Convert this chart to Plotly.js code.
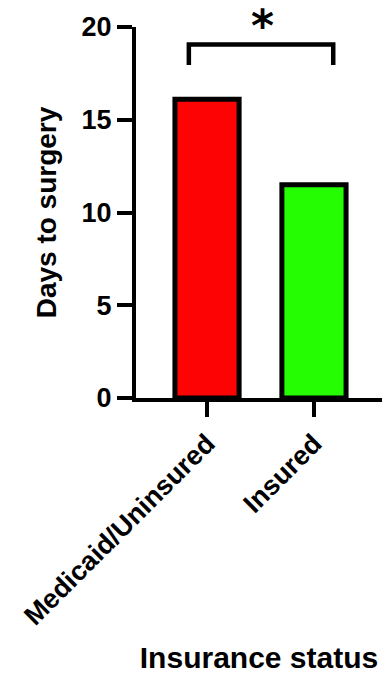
<!DOCTYPE html>
<html>
<head>
<meta charset="utf-8">
<script src="https://cdn.plot.ly/plotly-3.0.1.min.js"></script>
<style>html,body{margin:0;padding:0;background:#fff;}#chart{width:382px;height:677px;}</style>
</head>
<body>
<div id="chart"></div>
<script>
var categories = ["Medicaid/Uninsured", "Insured"];
var daysToSurgery = [16.1, 11.5];
var barColors = ["#fd0303", "#24fd02"];
var yTicks = [0, 5, 10, 15, 20];
var bracketX = [-0.17, -0.17, 1.18, 1.18];
var bracketY = [17.95, 19.05, 19.05, 17.95];
var sigLabel = "*";
var sigX = 0.52;
var sigYPaper = 1.003;

var FONT = "Liberation Sans, Arial, Helvetica, sans-serif";

var traces = [
  {
    type: "bar",
    x: [0, 1],
    y: daysToSurgery,
    width: 0.6,
    marker: {color: barColors, line: {color: "#000", width: 5}},
    hoverinfo: "skip"
  },
  {
    type: "scatter",
    mode: "lines",
    x: bracketX,
    y: bracketY,
    line: {color: "#000", width: 4.5},
    cliponaxis: false,
    hoverinfo: "skip"
  }
];

var layout = {
  width: 382,
  height: 677,
  margin: {l: 136, r: 0, t: 27, b: 279},
  paper_bgcolor: "#fff",
  plot_bgcolor: "#fff",
  showlegend: false,
  font: {family: FONT, color: "#000"},
  xaxis: {
    range: [-0.664, 1.636],
    tickmode: "array",
    tickvals: [0, 1],
    ticktext: categories,
    tickangle: -45,
    ticks: "outside",
    ticklen: 15,
    tickwidth: 4,
    tickcolor: "#000",
    showline: true,
    linewidth: 4,
    linecolor: "#000",
    showgrid: false,
    zeroline: false,
    automargin: false,
    tickfont: {family: FONT, size: 27, weight: "bold", color: "#000"},
    title: {text: "Insurance status", font: {family: FONT, size: 30, weight: "bold", color: "#000"}, standoff: 18}
  },
  yaxis: {
    range: [0, 20],
    tickmode: "array",
    tickvals: yTicks,
    ticktext: yTicks.map(String),
    ticks: "outside",
    ticklen: 15,
    tickwidth: 4,
    tickcolor: "#000",
    showline: true,
    linewidth: 4,
    linecolor: "#000",
    showgrid: false,
    zeroline: false,
    automargin: false,
    tickfont: {family: FONT, size: 27, weight: "bold", color: "#000"},
    title: {text: "Days to surgery", font: {family: FONT, size: 28, weight: "bold", color: "#000"}, standoff: 18}
  },
  annotations: [
    {x: sigX, y: sigYPaper, xref: "x", yref: "paper", text: sigLabel, showarrow: false,
     font: {family: "DejaVu Sans, sans-serif", size: 44, weight: "bold", color: "#000"}, yanchor: "middle"}
  ]
};

Plotly.newPlot("chart", traces, layout, {staticPlot: true, displayModeBar: false});
</script>
</body>
</html>
